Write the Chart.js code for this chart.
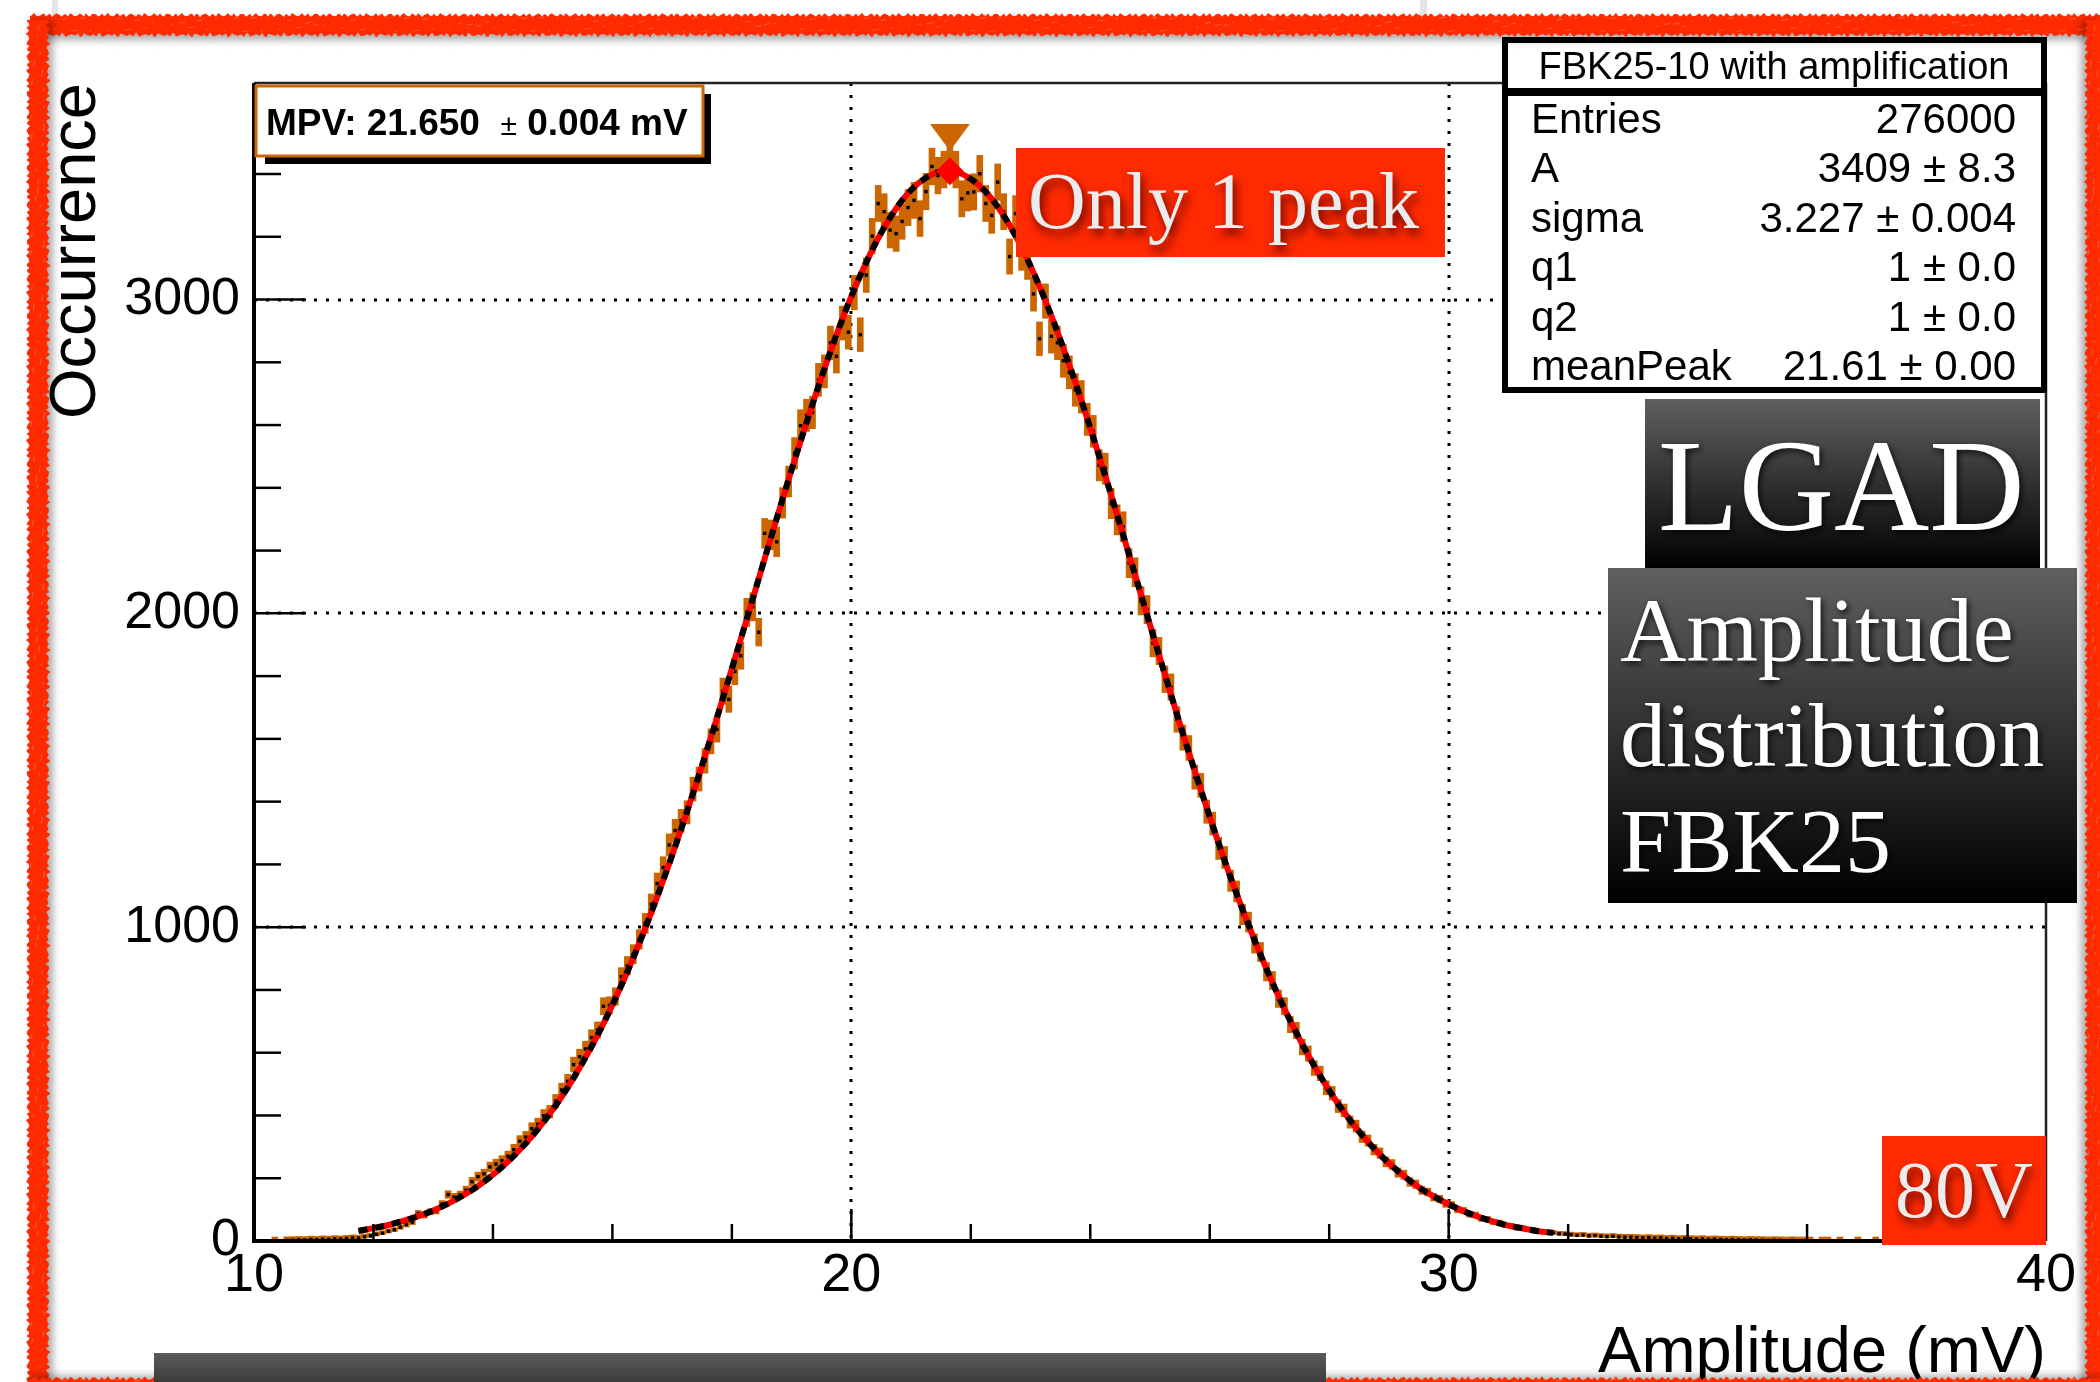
<!DOCTYPE html>
<html>
<head>
<meta charset="utf-8">
<title>FBK25 amplitude distribution</title>
<script src="https://cdn.jsdelivr.net/npm/chart.js@4.4.1/dist/chart.umd.min.js"></script>
<style>
  html, body { margin: 0; padding: 0; background: #fff; }
  #wrap { position: relative; width: 2100px; height: 1382px; overflow: hidden; background: #fff; }
  canvas { display: block; }
</style>
</head>
<body>
<div id="wrap"><canvas id="ampChart" width="2100" height="1382"></canvas></div>
<script>
// Amplitude histogram: 300 bins of 0.1 mV between 10 and 40 mV
const binLow = 10;
const binWidth = 0.1;
const counts = [
  0, 0, 0, 1, 0, 2, 3, 4, 3, 5,
  4, 6, 5, 7, 6, 8, 10, 9, 13, 16,
  21, 25, 31, 36, 44, 52, 60, 88, 82, 93,
  96, 118, 148, 140, 147, 162, 189, 205, 214, 236,
  245, 256, 270, 291, 318, 331, 358, 372, 399, 412,
  446, 481, 509, 562, 587, 612, 648, 672, 748, 751,
  779, 842, 877, 914, 961, 1012, 1073, 1139, 1190, 1262,
  1308, 1339, 1366, 1440, 1472, 1530, 1592, 1630, 1752, 1726,
  1815, 1865, 2003, 2021, 1940, 2255, 2250, 2228, 2352, 2420,
  2510, 2598, 2631, 2640, 2744, 2771, 2862, 2819, 2925, 2896,
  3022, 2888, 3078, 3202, 3306, 3280, 3221, 3210, 3249, 3293,
  3316, 3258, 3344, 3424, 3395, 3414, 3430, 3414, 3321, 3340,
  3343, 3401, 3306, 3268, 3374, 3280, 3137, 3274, 3149, 3120,
  3018, 2875, 2995, 2883, 2862, 2805, 2768, 2712, 2690, 2618,
  2580, 2472, 2461, 2350, 2298, 2276, 2160, 2131, 2040, 2012,
  1905, 1880, 1790, 1765, 1662, 1604, 1571, 1478, 1452, 1368,
  1330, 1251, 1222, 1148, 1114, 1040, 1016, 948, 921, 858,
  830, 772, 748, 690, 671, 618, 597, 551, 534, 488,
  471, 430, 416, 379, 366, 332, 320, 291, 280, 252,
  244, 218, 211, 188, 181, 161, 156, 139, 134, 118,
  115, 100, 97, 85, 83, 71, 70, 60, 59, 50,
  49, 41, 42, 35, 34, 29, 28, 26, 23, 22,
  20, 18, 19, 16, 17, 15, 14, 15, 13, 12,
  12, 11, 10, 11, 9, 10, 8, 9, 7, 8,
  7, 6, 7, 5, 6, 5, 4, 5, 4, 3,
  4, 3, 3, 2, 3, 2, 1, 2, 1, 1,
  1, 0, 1, 1, 0, 1, 0, 0, 1, 0,
  0, 1, 0, 0, 0, 1, 0, 0, 0, 0,
  0, 0, 0, 0, 0, 0, 0, 0, 0, 0,
  0, 0, 0, 0, 0, 0, 0, 0, 0, 0
];

// fitted curve, one value every 0.25 mV from 11.75 mV
const fitStart = 11.75;
const fitStep = 0.25;
const fitValues = [
  32, 41, 51, 64, 79, 97, 119, 145, 175, 211,
  253, 301, 356, 418, 489, 568, 655, 752, 858, 973,
  1097, 1229, 1369, 1515, 1667, 1824, 1982, 2143, 2302, 2458,
  2608, 2752, 2887, 3010, 3119, 3213, 3290, 3349, 3388, 3407,
  3406, 3384, 3343, 3282, 3203, 3107, 2996, 2871, 2736, 2591,
  2439, 2282, 2123, 1963, 1805, 1648, 1497, 1352, 1212, 1081,
  959, 845, 740, 645, 558, 480, 410, 349, 295, 248,
  207, 171, 142, 117, 95, 77, 62, 49, 40, 31, 26
];

const xRange = [10, 40];
const yRange = [0, 3690];
const xLabels = [10, 20, 30, 40];
const yLabels = [0, 1000, 2000, 3000];
const gridX = [20, 30];
const gridY = [1000, 2000, 3000];

// most probable value markers
const peakX = 21.65;
const peakY = 3409;
const arrowY = 3515;

const statTitle = 'FBK25-10 with amplification';
const statLabels = ['Entries', 'A', 'sigma', 'q1', 'q2', 'meanPeak'];
const statValues = ['276000', '3409 ± 8.3', '3.227 ± 0.004', '1 ± 0.0', '1 ± 0.0', '21.61 ± 0.00'];

const SANS = '"Liberation Sans", Arial, sans-serif';
const SERIF = '"Liberation Serif", "Times New Roman", serif';
const ORANGE = '#cc6600';
const BOXRED = '#ff2a00';

const binCenters = counts.map((c, i) => +(binLow + binWidth * (i + 0.5)).toFixed(2));
const filled = counts.map((c, i) => ({ x: binCenters[i], c: c })).filter(p => p.c > 0);
const errorBars = filled.map(p => ({ x: p.x, y: [p.c - Math.sqrt(p.c), p.c + Math.sqrt(p.c)] }));
const points = filled.map(p => ({ x: p.x, y: p.c }));
const fitCurve = fitValues.map((v, i) => ({ x: fitStart + fitStep * i, y: v }));

// downward arrow above the peak
const arrowMark = document.createElement('canvas');
arrowMark.width = 40;
arrowMark.height = 28;
const ac = arrowMark.getContext('2d');
ac.fillStyle = ORANGE;
ac.beginPath();
ac.moveTo(0, 0);
ac.lineTo(40, 0);
ac.lineTo(20, 27);
ac.closePath();
ac.fill();

function hLine(ctx, x1, y1, x2, y2) {
    ctx.beginPath();
    ctx.moveTo(x1, y1);
    ctx.lineTo(x2, y2);
    ctx.stroke();
}

// grid, frame and inward ticks like a ROOT canvas
const rootFrame = {
    id: 'rootFrame',
    beforeDatasetsDraw(chart) {
        const { ctx, chartArea: a, scales: { x, y } } = chart;
        ctx.save();
        ctx.strokeStyle = '#000';
        ctx.lineWidth = 3;
        ctx.setLineDash([3, 9]);
        gridX.forEach(v => {
            const px = Math.round(x.getPixelForValue(v));
            hLine(ctx, px, a.top, px, a.bottom);
        });
        gridY.forEach(v => {
            const py = Math.round(y.getPixelForValue(v));
            hLine(ctx, a.left, py, a.right, py);
        });
        ctx.restore();
    },
    afterDatasetsDraw(chart) {
        const { ctx, chartArea: a, scales: { x, y } } = chart;
        ctx.save();
        ctx.strokeStyle = '#000';
        // x ticks every 2 mV
        ctx.lineWidth = 2.5;
        for (let v = xRange[0] + 2; v < xRange[1]; v += 2) {
            const px = x.getPixelForValue(v);
            const len = v % 10 === 0 ? 32 : 17;
            hLine(ctx, px, a.bottom, px, a.bottom - len);
        }
        // y ticks every 200
        for (let v = 200; v < yRange[1]; v += 200) {
            const py = y.getPixelForValue(v);
            const len = v % 1000 === 0 ? 52 : 27;
            hLine(ctx, a.left, py, a.left + len, py);
        }
        ctx.strokeStyle = '#222';
        ctx.lineWidth = 2.5;
        hLine(ctx, a.left, a.top, a.right, a.top);
        hLine(ctx, a.right, a.top, a.right, a.bottom);
        ctx.strokeStyle = '#000';
        ctx.lineWidth = 4;
        hLine(ctx, a.left, a.top, a.left, a.bottom + 2);
        hLine(ctx, a.left - 2, a.bottom, a.right, a.bottom);
        ctx.restore();
    }
};

// rough red marker stroke around the slide
function roughBand(ctx, horizontal, from, to, center, thick, sdx, sdy) {
    const edge = (t, ph) => 1.3 * Math.sin(t * 1.7 + ph) + 0.9 * Math.sin(t * 3.9 + ph * 2) + 0.7 * Math.sin(t * 7.3 + ph * 3);
    ctx.save();
    ctx.fillStyle = '#ff2a00';
    ctx.shadowColor = 'rgba(0,0,0,0.32)';
    ctx.shadowBlur = 7;
    ctx.shadowOffsetX = sdx;
    ctx.shadowOffsetY = sdy;
    ctx.beginPath();
    for (let p = from; p <= to; p += 2) {
        const o = center - thick / 2 + edge(p / 2, 0.3);
        if (horizontal) ctx.lineTo(p, o); else ctx.lineTo(o, p);
    }
    for (let p = to; p >= from; p -= 2) {
        const o = center + thick / 2 + edge(p / 2, 1.7);
        if (horizontal) ctx.lineTo(p, o); else ctx.lineTo(o, p);
    }
    ctx.closePath();
    ctx.fill();
    ctx.restore();
    // lighter scratches in the stroke
    ctx.save();
    ctx.strokeStyle = 'rgba(255,140,110,0.5)';
    ctx.lineWidth = 1;
    for (let p = from + 5; p < to; p += 9) {
        const o = center + (thick / 3) * Math.sin(p * 0.37);
        const d = 4 + 3 * Math.sin(p * 0.11);
        if (horizontal) hLine(ctx, p, o, p + d, o - 1);
        else hLine(ctx, o, p, o - 1, p + d);
    }
    ctx.restore();
}

function gradientBox(ctx, x, y, w, h, top, bottom) {
    const g = ctx.createLinearGradient(0, y, 0, y + h);
    g.addColorStop(0, top);
    g.addColorStop(1, bottom);
    ctx.fillStyle = g;
    ctx.fillRect(x, y, w, h);
}

function shadowText(ctx, text, x, y, font, color, shadow, blur, dx, dy) {
    ctx.save();
    ctx.font = font;
    ctx.fillStyle = color;
    ctx.shadowColor = shadow;
    ctx.shadowBlur = blur;
    ctx.shadowOffsetX = dx;
    ctx.shadowOffsetY = dy;
    ctx.textBaseline = 'alphabetic';
    ctx.fillText(text, x, y);
    ctx.restore();
}

const overlays = {
    id: 'overlays',
    afterDraw(chart) {
        const ctx = chart.ctx;
        ctx.save();
        ctx.textBaseline = 'alphabetic';

        // MPV label box with drop shadow
        ctx.fillStyle = '#000';
        ctx.fillRect(265, 94, 446, 70);
        ctx.fillStyle = '#fff';
        ctx.fillRect(256, 86, 447, 70);
        ctx.strokeStyle = ORANGE;
        ctx.lineWidth = 3;
        ctx.strokeRect(256, 86, 447, 70);
        ctx.fillStyle = '#000';
        let tx = 266;
        ctx.font = 'bold 37px ' + SANS;
        ctx.fillText('MPV: 21.650 ', tx, 135);
        tx += ctx.measureText('MPV: 21.650  ').width;
        ctx.font = '30px ' + SANS;
        ctx.fillText('±', tx, 135);
        tx += ctx.measureText('±').width;
        ctx.font = 'bold 37px ' + SANS;
        ctx.fillText(' 0.004 mV', tx, 135);

        // fit statistics box
        ctx.fillStyle = '#fff';
        ctx.fillRect(1505, 40, 539, 350);
        ctx.strokeStyle = '#000';
        ctx.lineWidth = 6;
        ctx.strokeRect(1505, 40, 539, 350);
        ctx.lineWidth = 8;
        hLine(ctx, 1505, 92, 2044, 92);
        ctx.fillStyle = '#000';
        ctx.font = '38px ' + SANS;
        ctx.textAlign = 'center';
        ctx.fillText(statTitle, 1774, 79);
        ctx.font = '42px ' + SANS;
        statLabels.forEach((lab, i) => {
            const by = 133 + 49.4 * i;
            ctx.textAlign = 'left';
            ctx.fillText(lab, 1531, by);
            ctx.textAlign = 'right';
            ctx.fillText(statValues[i], 2016, by);
        });
        ctx.textAlign = 'left';

        // annotation boxes
        ctx.fillStyle = BOXRED;
        ctx.fillRect(1016, 148, 429, 109);
        shadowText(ctx, 'Only 1 peak', 1028, 228, '80px ' + SERIF, '#ececec', 'rgba(80,0,0,0.9)', 10, 3, 6);

        gradientBox(ctx, 1645, 399, 395, 170, '#606060', '#000');
        shadowText(ctx, 'LGAD', 1658, 530, '132px ' + SERIF, '#fff', 'rgba(0,0,0,0.8)', 6, 2, 3);

        gradientBox(ctx, 1608, 568, 469, 335, '#606060', '#000');
        ['Amplitude', 'distribution', 'FBK25'].forEach((t, i) => {
            shadowText(ctx, t, 1620, [661, 766, 872][i], '92px ' + SERIF, '#fff', 'rgba(0,0,0,0.8)', 6, 2, 3);
        });

        ctx.fillStyle = BOXRED;
        ctx.fillRect(1882, 1136, 164, 109);
        shadowText(ctx, '80V', 1895, 1217, '80px ' + SERIF, '#ececec', 'rgba(80,0,0,0.9)', 10, 3, 6);

        // edges of the slide underneath
        ctx.fillStyle = 'rgba(0,0,0,0.10)';
        ctx.fillRect(52, 0, 6, 16);
        ctx.fillRect(1420, 0, 7, 16);

        // red frame
        roughBand(ctx, true, 30, 2100, 25, 20, 0, 5);
        roughBand(ctx, false, 20, 1382, 38, 20, 5, 0);
        roughBand(ctx, false, 20, 1382, 2094, 16, -5, 0);
        roughBand(ctx, true, 30, 2100, 1383, 9, 0, -3);

        // grey bar at the bottom edge
        gradientBox(ctx, 154, 1353, 1172, 29, '#5c5c5c', '#3c3c3c');
        ctx.restore();
    }
};

Chart.defaults.font.family = SANS;
Chart.defaults.color = '#000';

const ampCtx = document.getElementById('ampChart').getContext('2d');
const ampChart = new Chart(ampCtx, {
    type: 'scatter',
    data: {
        datasets: [{
            type: 'bar',
            label: 'errors',
            data: errorBars,
            backgroundColor: ORANGE,
            borderWidth: 0,
            barThickness: 6,
            minBarLength: 4,
            grouped: false,
            order: 6
        }, {
            type: 'scatter',
            label: 'counts',
            data: points,
            pointStyle: 'rect',
            pointRadius: 2.4,
            backgroundColor: '#000',
            borderWidth: 0,
            order: 5
        }, {
            type: 'line',
            label: 'fit',
            data: fitCurve,
            borderColor: '#ff0000',
            borderWidth: 6,
            pointRadius: 0,
            cubicInterpolationMode: 'monotone',
            order: 4
        }, {
            type: 'line',
            label: 'fit dashed',
            data: fitCurve,
            borderColor: '#000',
            borderWidth: 6,
            borderDash: [9, 8],
            pointRadius: 0,
            cubicInterpolationMode: 'monotone',
            order: 3
        }, {
            type: 'scatter',
            label: 'arrow',
            data: [{ x: peakX, y: arrowY }],
            pointStyle: arrowMark,
            order: 2
        }, {
            type: 'scatter',
            label: 'peak',
            data: [{ x: peakX, y: peakY }],
            pointStyle: 'rectRot',
            pointRadius: 14,
            backgroundColor: '#ff0000',
            borderWidth: 0,
            order: 1
        }]
    },
    options: {
        responsive: false,
        devicePixelRatio: 1,
        animation: false,
        layout: { padding: { left: 0, top: 83, right: 54, bottom: 0 } },
        plugins: {
            legend: { display: false },
            tooltip: { enabled: false }
        },
        scales: {
            x: {
                type: 'linear',
                position: 'bottom',
                min: xRange[0],
                max: xRange[1],
                offset: false,
                afterFit: s => { s.height = 141; },
                afterBuildTicks: s => { s.ticks = xLabels.map(v => ({ value: v })); },
                grid: { display: false, drawTicks: false },
                border: { display: false },
                ticks: {
                    autoSkip: false,
                    maxRotation: 0,
                    padding: 3,
                    color: '#000',
                    font: { family: SANS, size: 54 },
                    callback: v => String(v)
                },
                title: {
                    display: true,
                    text: 'Amplitude (mV)',
                    align: 'end',
                    color: '#000',
                    font: { family: SANS, size: 65, lineHeight: 0.846 },
                    padding: { top: 0, bottom: 0 }
                }
            },
            y: {
                type: 'linear',
                min: yRange[0],
                max: yRange[1],
                afterFit: s => { s.width = 254; },
                afterBuildTicks: s => { s.ticks = yLabels.map(v => ({ value: v })); },
                grid: { display: false, drawTicks: false },
                border: { display: false },
                ticks: {
                    autoSkip: false,
                    padding: 14,
                    color: '#000',
                    font: { family: SANS, size: 52 },
                    callback: v => String(v)
                },
                title: {
                    display: true,
                    text: 'Occurrence',
                    align: 'end',
                    color: '#000',
                    font: { family: SANS, size: 65, lineHeight: 0.846 },
                    padding: { top: 50, bottom: 0 }
                }
            }
        }
    },
    plugins: [rootFrame, overlays]
});
</script>
</body>
</html>
